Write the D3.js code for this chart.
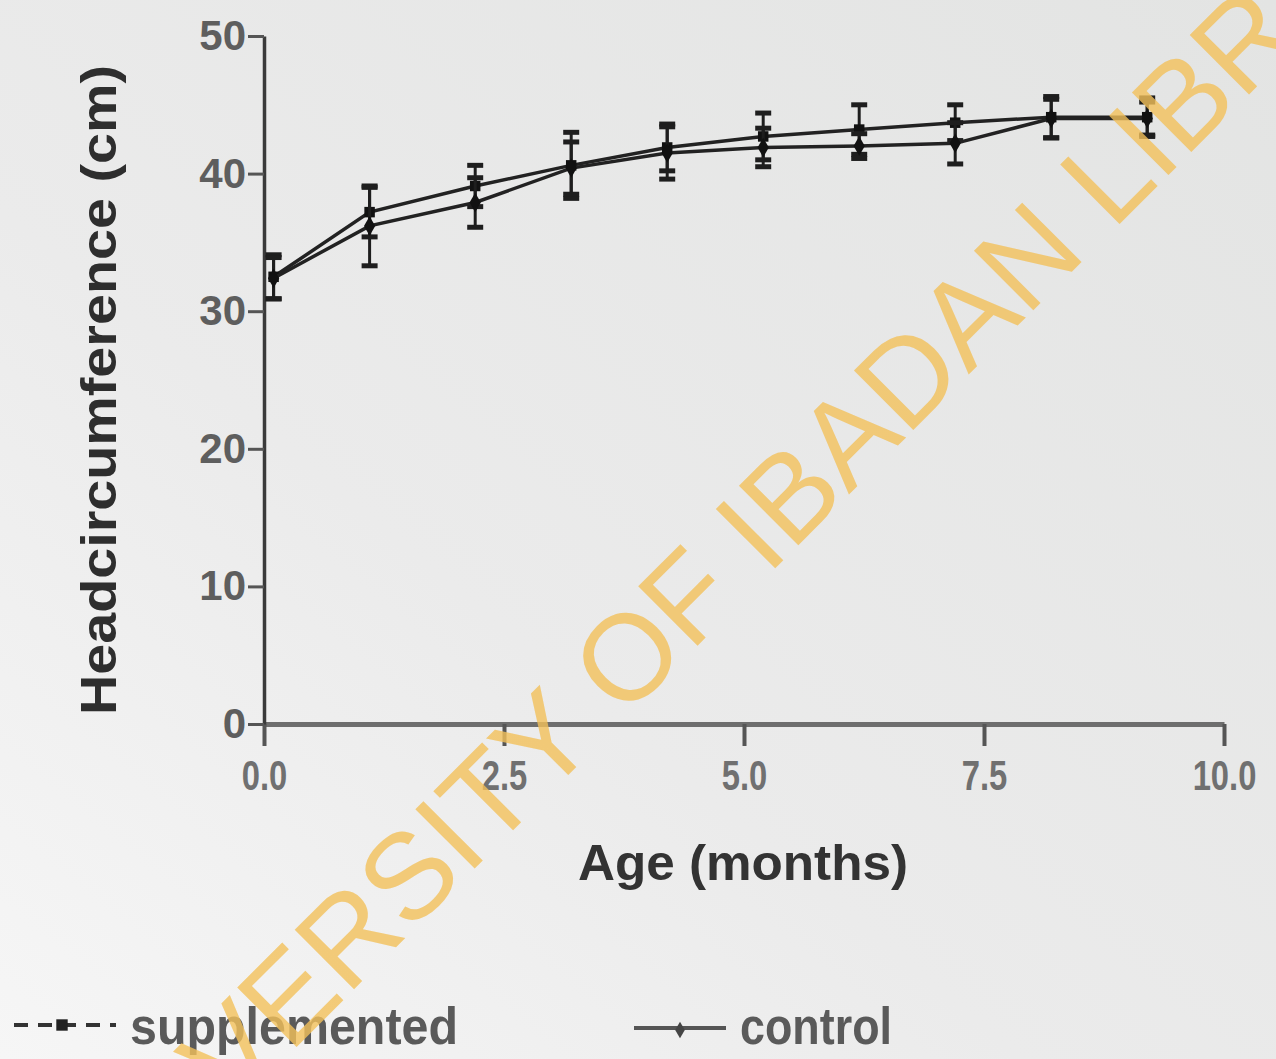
<!DOCTYPE html>
<html>
<head>
<meta charset="utf-8">
<script src="https://cdn.jsdelivr.net/npm/d3@7"></script>
<style>
  body { margin: 0; background: #ececec; }
  svg { display: block; }
</style>
</head>
<body>
<svg id="chart" width="1276" height="1059"></svg>
<script>
var width = 1276, height = 1059

// age in months (as plotted)
var ages = [0.1, 1.1, 2.2, 3.2, 4.2, 5.2, 6.2, 7.2, 8.2, 9.2]
// head circumference means (cm)
var supplemented = [32.5, 37.2, 39.1, 40.6, 41.9, 42.7, 43.2, 43.7, 44.1, 44.1]
var control = [32.4, 36.2, 37.9, 40.4, 41.5, 41.9, 42.0, 42.2, 44.0, 44.0]
// standard deviations
var supplementedSd = [1.6, 1.8, 1.5, 2.4, 1.7, 1.7, 1.8, 1.3, 1.5, 1.4]
var controlSd = [1.5, 2.9, 1.8, 1.9, 1.9, 1.4, 0.9, 1.5, 1.4, 1.2]

var xTicks = [0, 2.5, 5, 7.5, 10]
var yTicks = [0, 10, 20, 30, 40, 50]

var font = "Liberation Sans, Arial, sans-serif"
var svg = d3.select("#chart")

// paper background
var defs = svg.append("defs")
var grad = defs.append("linearGradient").attr("id", "paper")
  .attr("x1", "100%").attr("y1", "0%").attr("x2", "0%").attr("y2", "100%")
grad.append("stop").attr("offset", "0%").attr("stop-color", "#e3e4e3")
grad.append("stop").attr("offset", "60%").attr("stop-color", "#ebebeb")
grad.append("stop").attr("offset", "100%").attr("stop-color", "#f6f6f6")
svg.append("rect").attr("width", width).attr("height", height).attr("fill", "url(#paper)")

var x = d3.scaleLinear().domain([0, 10]).range([264, 1224])
var y = d3.scaleLinear().domain([0, 50]).range([724, 36])

// x axis
var xAxis = svg.append("g").attr("transform", "translate(0," + y(0) + ")")
  .call(d3.axisBottom(x).tickValues(xTicks).tickFormat(d3.format(".1f")).tickSize(22).tickSizeOuter(0))
xAxis.select(".domain").attr("stroke", "#6e6e6e").attr("stroke-width", 5)
xAxis.selectAll(".tick line").attr("stroke", "#555").attr("stroke-width", 4)
xAxis.selectAll(".tick text")
  .attr("fill", "#707070")
  .attr("font-family", font)
  .attr("font-weight", "bold")
  .attr("font-size", 42)
  .attr("dy", "1.05em")
  .attr("y", 22)
  .attr("transform", "scale(0.78,1)")

// y axis
var yAxis = svg.append("g").attr("transform", "translate(" + x(0) + ",0)")
  .call(d3.axisLeft(y).tickValues(yTicks).tickSize(16).tickSizeOuter(0))
yAxis.select(".domain").attr("stroke", "#3a3a3a").attr("stroke-width", 3.5)
yAxis.selectAll(".tick line").attr("stroke", "#555").attr("stroke-width", 3)
yAxis.selectAll(".tick text")
  .attr("fill", "#5e5e5e")
  .attr("font-family", font)
  .attr("font-weight", "bold")
  .attr("font-size", 42)
  .attr("x", -18)

// axis titles
svg.append("text")
  .attr("transform", "translate(116,390) rotate(-90)")
  .attr("text-anchor", "middle")
  .attr("fill", "#2e2e2e")
  .attr("font-family", font)
  .attr("font-weight", "bold")
  .attr("font-size", 50)
  .attr("textLength", 650)
  .attr("lengthAdjust", "spacingAndGlyphs")
  .text("Headcircumference (cm)")

svg.append("text")
  .attr("x", 743).attr("y", 880)
  .attr("text-anchor", "middle")
  .attr("fill", "#333")
  .attr("font-family", font)
  .attr("font-weight", "bold")
  .attr("font-size", 50)
  .attr("textLength", 330)
  .attr("lengthAdjust", "spacingAndGlyphs")
  .text("Age (months)")

// series
var series = [
  { name: "supplemented", values: supplemented, sd: supplementedSd, shape: d3.symbolSquare, size: 110 },
  { name: "control", values: control, sd: controlSd, shape: d3.symbolDiamond, size: 110 }
]

var line = d3.line()
  .x(function(d) { return x(d.age) })
  .y(function(d) { return y(d.v) })

series.forEach(function(s) {
  var pts = ages.map(function(a, i) { return { age: a, v: s.values[i], sd: s.sd[i] } })
  var g = svg.append("g")

  g.append("path").datum(pts)
    .attr("d", line)
    .attr("fill", "none")
    .attr("stroke", "#222")
    .attr("stroke-width", 3.5)

  var eb = g.selectAll(".eb").data(pts).join("g")
  eb.append("line")
    .attr("x1", function(d) { return x(d.age) })
    .attr("x2", function(d) { return x(d.age) })
    .attr("y1", function(d) { return y(d.v + d.sd) })
    .attr("y2", function(d) { return y(d.v - d.sd) })
    .attr("stroke", "#1e1e1e").attr("stroke-width", 3)
  ;[1, -1].forEach(function(sign) {
    eb.append("line")
      .attr("x1", function(d) { return x(d.age) - 8 })
      .attr("x2", function(d) { return x(d.age) + 8 })
      .attr("y1", function(d) { return y(d.v + sign * d.sd) })
      .attr("y2", function(d) { return y(d.v + sign * d.sd) })
      .attr("stroke", "#1e1e1e").attr("stroke-width", 5)
  })

  g.selectAll(".pt").data(pts).join("path")
    .attr("transform", function(d) { return "translate(" + x(d.age) + "," + y(d.v) + ")" })
    .attr("d", d3.symbol().type(s.shape).size(s.size))
    .attr("fill", "#111")
})

// legend
var legend = svg.append("g")
legend.append("line").attr("x1", 14).attr("x2", 116).attr("y1", 1025).attr("y2", 1025)
  .attr("stroke", "#333").attr("stroke-width", 4).attr("stroke-dasharray", "14,10")
legend.append("path").attr("transform", "translate(62,1025)")
  .attr("d", d3.symbol().type(d3.symbolSquare).size(130)).attr("fill", "#222")
legend.append("text").attr("x", 130).attr("y", 1044)
  .attr("fill", "#5a5a5a")
  .attr("font-family", font)
  .attr("font-weight", "bold")
  .attr("font-size", 52)
  .attr("textLength", 328)
  .attr("lengthAdjust", "spacingAndGlyphs")
  .text("supplemented")

legend.append("line").attr("x1", 634).attr("x2", 726).attr("y1", 1028).attr("y2", 1028)
  .attr("stroke", "#555").attr("stroke-width", 4)
legend.append("path").attr("transform", "translate(680,1030)")
  .attr("d", d3.symbol().type(d3.symbolDiamond).size(80)).attr("fill", "#444")
legend.append("text").attr("x", 740).attr("y", 1044)
  .attr("fill", "#5a5a5a")
  .attr("font-family", font)
  .attr("font-weight", "bold")
  .attr("font-size", 52)
  .attr("textLength", 152)
  .attr("lengthAdjust", "spacingAndGlyphs")
  .text("control")

// library watermark
svg.append("text")
  .attr("transform", "translate(752,532) rotate(-45)")
  .attr("text-anchor", "middle")
  .attr("dominant-baseline", "central")
  .attr("fill", "#f2c05a")
  .attr("fill-opacity", 0.8)
  .attr("font-family", font)
  .attr("font-size", 122)
  .text("UNIVERSITY OF IBADAN LIBRARY")
</script>
</body>
</html>
